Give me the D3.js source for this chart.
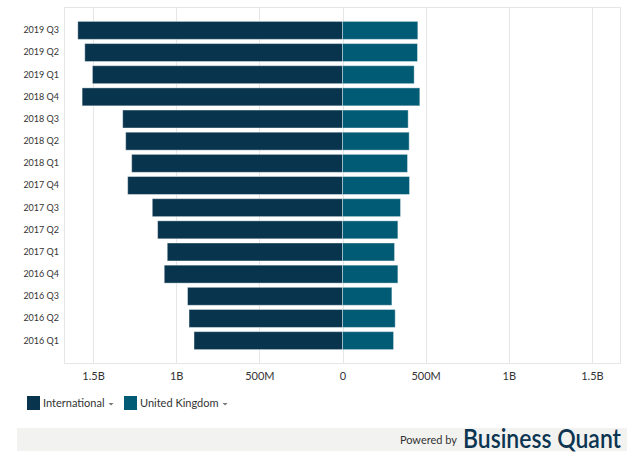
<!DOCTYPE html>
<html>
<head>
<meta charset="utf-8">
<script src="https://cdn.jsdelivr.net/npm/d3@7"></script>
<style>
	body { margin: 0; background: #fff; }
	text { font-family: Lato, "Open Sans", sans-serif; }
</style>
</head>
<body>
<div id="chart"></div>
<script>
// quarters, top to bottom
let quarters = ["2019 Q3", "2019 Q2", "2019 Q1", "2018 Q4", "2018 Q3", "2018 Q2", "2018 Q1",
	"2017 Q4", "2017 Q3", "2017 Q2", "2017 Q1", "2016 Q4", "2016 Q3", "2016 Q2", "2016 Q1"];
// revenue in millions
let international = [1592, 1550, 1504, 1566, 1322, 1304, 1268, 1292, 1144, 1112, 1054, 1072, 932, 923, 893];
let unitedKingdom = [453, 451, 431, 465, 395, 401, 391, 403, 349, 333, 313, 333, 297, 317, 307];
let xTicks = [-1500, -1000, -500, 0, 500, 1000, 1500];
let seriesNames = ["International", "United Kingdom"];
let seriesColors = ["#08344e", "#025b74"];

let width = 644, height = 455;
let plot = { left: 64, right: 621, top: 7, bottom: 364 };

let svg = d3.select("#chart").append("svg")
	.attr("width", width)
	.attr("height", height);

let x = d3.scaleLinear().domain([-1675, 1675]).range([plot.left, plot.right]);
let y = d3.scaleBand().domain(quarters).range([plot.top, plot.bottom])
	.paddingInner(0.19).paddingOuter(0.65);

let fmt = function (v) {
	let a = Math.abs(v);
	if (a === 0) return "0";
	if (a >= 1000) return (a / 1000) + "B";
	return a + "M";
};

// grid + frame
svg.append("rect")
	.attr("x", plot.left + 0.5).attr("y", plot.top + 0.5)
	.attr("width", plot.right - plot.left - 1).attr("height", plot.bottom - plot.top - 1)
	.attr("fill", "none").attr("stroke", "#e6e6e6");

svg.append("g").selectAll("line").data(xTicks).enter().append("line")
	.attr("x1", (d) => Math.round(x(d)) + 0.5).attr("x2", (d) => Math.round(x(d)) + 0.5)
	.attr("y1", plot.top).attr("y2", plot.bottom)
	.attr("stroke", "#e6e6e6");

// x axis labels
let xAxis = svg.append("g")
	.attr("transform", "translate(0," + (plot.bottom + 4) + ")")
	.call(d3.axisBottom(x).tickValues(xTicks).tickFormat(fmt).tickSize(0).tickPadding(4));
xAxis.select(".domain").remove();
xAxis.selectAll("text")
	.attr("fill", "#333").style("font-size", "11px")
	.style("font-family", "Lato, sans-serif");

// y axis labels
let yAxis = svg.append("g")
	.attr("transform", "translate(" + (plot.left - 5) + ",0)")
	.call(d3.axisLeft(y).tickSize(0).tickPadding(0));
yAxis.select(".domain").remove();
yAxis.selectAll("text")
	.attr("fill", "#333").style("font-size", "9px")
	.style("font-family", "Lato, sans-serif");

// bars
svg.append("g").selectAll("rect").data(quarters).enter().append("rect")
	.attr("x", (d, i) => x(-international[i]))
	.attr("y", (d) => y(d))
	.attr("width", (d, i) => x(0) - x(-international[i]))
	.attr("height", y.bandwidth())
	.attr("fill", seriesColors[0])
	.attr("stroke", "rgba(255,255,255,0.4)");

svg.append("g").selectAll("rect").data(quarters).enter().append("rect")
	.attr("x", x(0))
	.attr("y", (d) => y(d))
	.attr("width", (d, i) => x(unitedKingdom[i]) - x(0))
	.attr("height", y.bandwidth())
	.attr("fill", seriesColors[1])
	.attr("stroke", "rgba(255,255,255,0.4)");

// legend
let legendX = [27, 124];
let legend = svg.append("g");
seriesNames.forEach((name, i) => {
	let g = legend.append("g").attr("transform", "translate(" + legendX[i] + ",396)");
	g.append("rect").attr("width", 13).attr("height", 14).attr("fill", seriesColors[i]);
	let t = g.append("text").attr("x", 16).attr("y", 11)
		.attr("fill", "#333").style("font-size", "11px").text(name);
	let w = t.node().getComputedTextLength();
	g.append("path")
		.attr("d", "M" + (16 + w + 4) + ",7 l5,0 l-2.5,2.5 z")
		.attr("fill", "#777");
});

// footer
svg.append("rect").attr("x", 17).attr("y", 428).attr("width", 610).attr("height", 23).attr("fill", "#f2f2f0");
svg.append("text").attr("x", 457).attr("y", 444).attr("text-anchor", "end")
	.attr("fill", "#333").style("font-size", "11px").text("Powered by");
svg.append("text").attr("x", 463).attr("y", 448)
	.attr("fill", "#0b3550").style("font-size", "26px").style("font-weight", "600")
	.attr("textLength", 158).attr("lengthAdjust", "spacingAndGlyphs")
	.text("Business Quant");
</script>
</body>
</html>
